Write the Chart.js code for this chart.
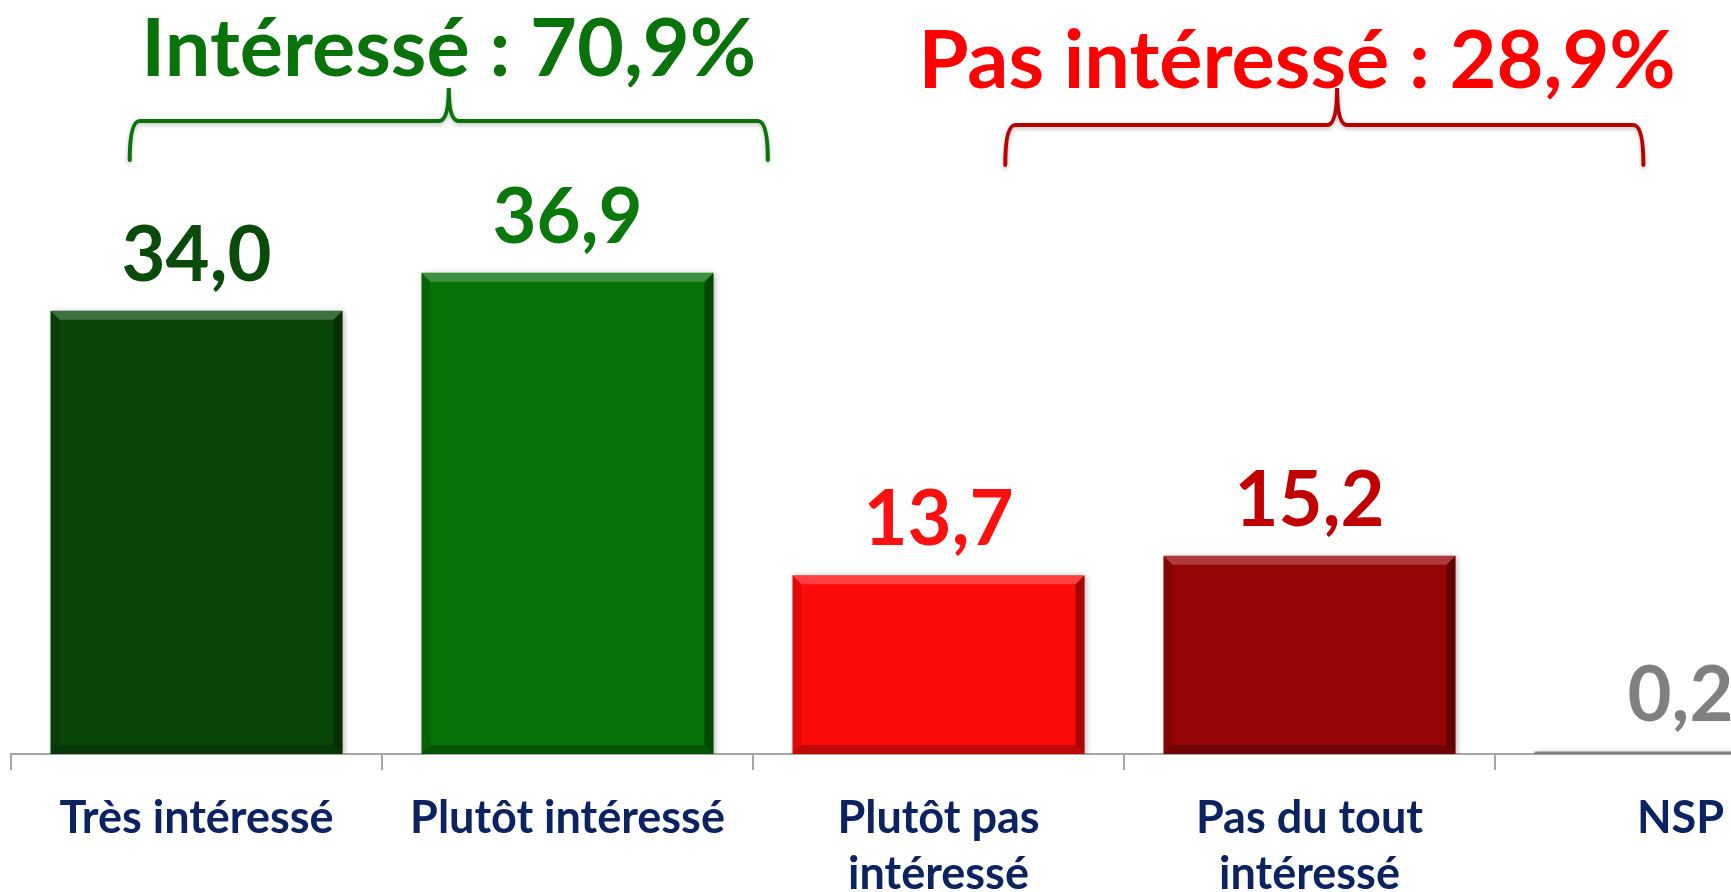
<!DOCTYPE html>
<html>
<head>
<meta charset="utf-8">
<script src="https://cdn.jsdelivr.net/npm/chart.js@4"></script>
<style>
  html, body { margin: 0; padding: 0; background: #fff; overflow: hidden; }
  #wrap { width: 1880px; height: 892px; }
</style>
</head>
<body>
<div id="wrap"><canvas id="chart" width="1880" height="892"></canvas></div>
<script>
  // categories and values
  var categories = [
    ['Très intéressé'],
    ['Plutôt intéressé'],
    ['Plutôt pas', 'intéressé'],
    ['Pas du tout', 'intéressé'],
    ['NSP']
  ]
  var values = [34.0, 36.9, 13.7, 15.2, 0.2]
  var barColors = ['#084708', '#077207', '#ff0a0a', '#960505', '#808080']
  var labelColors = ['#0a4a0a', '#0a780a', '#ff1010', '#c00000', '#808080']

  // groups : label, categories, colour of text and bracket
  var groupNames = ['Intéressé', 'Pas intéressé']
  var groupMembers = [[0, 1], [2, 3]]
  var groupTextColors = ['#0a720a', '#ff0000']
  var groupBracketColors = ['#0a720a', '#b80000']

  var fontFamily = 'Lato, "Noto Sans", sans-serif'

  function fmt(v) {
    return v.toFixed(1).replace('.', ',')
  }

  // bevel + shadow look of the bars
  var bevel = {
    id: 'bevel',
    beforeDatasetsDraw: function (chart) {
      var c = chart.ctx
      c.save()
      c.shadowColor = 'rgba(0,0,0,0.3)'
      c.shadowBlur = 6
      c.shadowOffsetX = 2
      c.shadowOffsetY = 1
    },
    afterDatasetsDraw: function (chart) {
      var c = chart.ctx
      c.restore()
      var meta = chart.getDatasetMeta(0)
      meta.data.forEach(function (bar, i) {
        var h = bar.base - bar.y
        if (h < 20) return
        var l = bar.x - bar.width / 2, r = bar.x + bar.width / 2, t = bar.y, b = bar.base
        var d = 9
        c.save()
        // top light band
        c.fillStyle = 'rgba(255,255,255,0.22)'
        c.beginPath()
        c.moveTo(l, t); c.lineTo(r, t); c.lineTo(r - d, t + d); c.lineTo(l + d, t + d); c.closePath()
        c.fill()
        // right dark band
        c.fillStyle = 'rgba(0,0,0,0.35)'
        c.beginPath()
        c.moveTo(r, t); c.lineTo(r, b); c.lineTo(r - d, b - d); c.lineTo(r - d, t + d); c.closePath()
        c.fill()
        // bottom dark band
        c.fillStyle = 'rgba(0,0,0,0.25)'
        c.beginPath()
        c.moveTo(l, b); c.lineTo(r, b); c.lineTo(r - d, b - d); c.lineTo(l + d, b - d); c.closePath()
        c.fill()
        // left soft band
        c.fillStyle = 'rgba(0,0,0,0.12)'
        c.beginPath()
        c.moveTo(l, t); c.lineTo(l + d, t + d); c.lineTo(l + d, b - d); c.lineTo(l, b); c.closePath()
        c.fill()
        c.restore()
      })
    }
  }

  // value labels above bars, group brackets and titles
  var annotations = {
    id: 'annotations',
    afterDraw: function (chart) {
      var c = chart.ctx
      var meta = chart.getDatasetMeta(0)
      var xs = chart.scales.x
      c.save()
      c.textAlign = 'center'
      c.textBaseline = 'alphabetic'
      c.font = 'bold 76px ' + fontFamily
      meta.data.forEach(function (bar, i) {
        c.fillStyle = labelColors[i]
        c.fillText(fmt(values[i]), bar.x, bar.y - 30)
      })

      var step = xs.getPixelForValue(1) - xs.getPixelForValue(0)
      var spans = [[-0.18, 0.54], [0.18, 0.9]]
      var tipX = [0.5, 0.52]
      groupMembers.forEach(function (m, g) {
        var x0 = xs.getPixelForValue(m[0])
        var left = x0 + spans[g][0] * step
        var right = xs.getPixelForValue(m[1]) + spans[g][1] * step
        var mid = left + (right - left) * tipX[g]
        var yLine = 121 + g * 4
        var yEnd = 160 + g * 5
        var yTip = 88
        var r = 10
        c.save()
        c.strokeStyle = groupBracketColors[g]
        c.lineWidth = 4
        c.lineCap = 'round'
        c.shadowColor = 'rgba(0,0,0,0.25)'
        c.shadowBlur = 4
        c.shadowOffsetY = 2
        c.beginPath()
        c.moveTo(left, yEnd)
        c.quadraticCurveTo(left, yLine, left + r, yLine)
        c.lineTo(mid - r, yLine)
        c.quadraticCurveTo(mid, yLine, mid, yTip)
        c.quadraticCurveTo(mid, yLine, mid + r, yLine)
        c.lineTo(right - r, yLine)
        c.quadraticCurveTo(right, yLine, right, yEnd)
        c.stroke()
        c.restore()

        var total = 0
        m.forEach(function (k) { total += values[k] })
        c.fillStyle = groupTextColors[g]
        c.font = 'bold 81px ' + fontFamily
        c.fillText(groupNames[g] + ' : ' + fmt(total) + '%', mid - g * 40, 76 + g * 12)
      })
      c.restore()
    }
  }

  var ctx = document.getElementById('chart')

  var chart = new Chart(ctx, {
    type: 'bar',
    data: {
      labels: categories,
      datasets: [{
        data: values,
        backgroundColor: barColors,
        borderWidth: 0,
        barPercentage: 0.787,
        categoryPercentage: 1
      }]
    },
    options: {
      responsive: false,
      animation: false,
      layout: { padding: { top: 102, left: 11, right: 14, bottom: 0 } },
      plugins: { legend: { display: false }, tooltip: { enabled: false } },
      scales: {
        y: { display: false, min: 0, max: 50 },
        x: {
          afterFit: function (s) { s.height = 138 },
          grid: { drawOnChartArea: false, tickLength: 16, color: '#a6a6a6', lineWidth: 2 },
          border: { color: '#a6a6a6', width: 2 },
          ticks: {
            color: '#0d2260',
            padding: 21,
            maxRotation: 0,
            autoSkip: false,
            font: { family: fontFamily, weight: 'bold', size: 45, lineHeight: 1.24 }
          }
        }
      }
    },
    plugins: [bevel, annotations]
  });
</script>
</body>
</html>
